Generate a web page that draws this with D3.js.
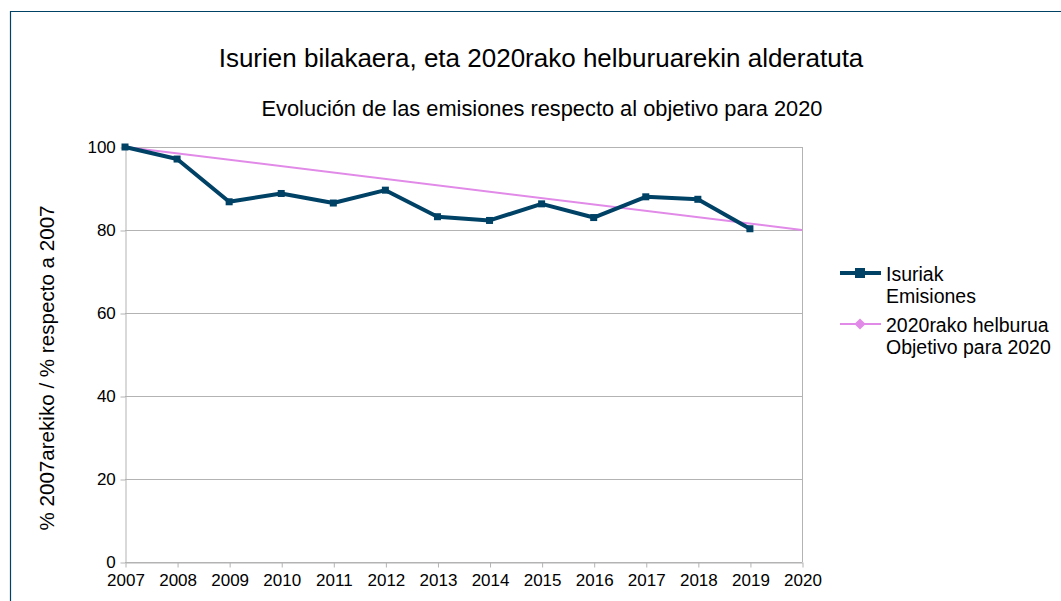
<!DOCTYPE html>
<html><head><meta charset="utf-8">
<script src="https://cdn.jsdelivr.net/npm/d3@7"></script>
<style>body{margin:0;background:#fff}svg{display:block;font-family:"Liberation Sans",Arial,sans-serif}</style>
</head><body><svg id="c" width="1061" height="601"></svg>
<script>
const years = [2007,2008,2009,2010,2011,2012,2013,2014,2015,2016,2017,2018,2019];
const emissions = [100,97.1,86.8,88.8,86.5,89.6,83.2,82.3,86.3,83.0,88.0,87.4,80.3];
const targetYears = [2007,2020];
const targetValues = [100,80];
const xTicks = [2007,2008,2009,2010,2011,2012,2013,2014,2015,2016,2017,2018,2019,2020];
const yTicks = [0,20,40,60,80,100];
const title = "Isurien bilakaera, eta 2020rako helburuarekin alderatuta";
const subtitle = "Evolución de las emisiones respecto al objetivo para 2020";
const yLabel = "% 2007arekiko / % respecto a 2007";
const legendItems = [["Isuriak","Emisiones"],["2020rako helburua","Objetivo para 2020"]];

const svg = d3.select("#c");
const dark = "#004166", pink = "#e18ae8", grid = "#b3b3b3";
svg.append("path").attr("d","M10.5,601 V11.5 H1061").attr("fill","none").attr("stroke",dark).attr("stroke-width",1.2);

const x = d3.scaleLinear().domain([2007,2020]).range([125,802]);
const y = d3.scaleLinear().domain([0,100]).range([562,147]);

svg.append("text").attr("x",541).attr("y",67).attr("text-anchor","middle").attr("font-size",26).attr("fill","#000").text(title);
svg.append("text").attr("x",542).attr("y",116).attr("text-anchor","middle").attr("font-size",21.8).attr("fill","#000").text(subtitle);

svg.append("g").selectAll("line").data(yTicks).join("line")
  .attr("x1",x(2007)).attr("x2",x(2020)).attr("y1",d=>y(d)+0.5).attr("y2",d=>y(d)+0.5)
  .attr("stroke",grid).attr("stroke-width",1);
svg.append("line").attr("x1",x(2020)+0.5).attr("x2",x(2020)+0.5).attr("y1",y(100)).attr("y2",y(0)).attr("stroke",grid);

const xAxis = svg.append("g").attr("transform",`translate(0.5,${y(0)+0.5})`)
  .call(d3.axisBottom(x).tickValues(xTicks).tickFormat(d3.format("d")).tickSize(5).tickSizeOuter(0));
const yAxis = svg.append("g").attr("transform",`translate(${x(2007)+0.5},0.5)`)
  .call(d3.axisLeft(y).tickValues(yTicks).tickSize(5).tickSizeOuter(0));
[xAxis,yAxis].forEach(a=>{
  a.select(".domain").attr("stroke",grid);
  a.selectAll(".tick line").attr("stroke",grid);
  a.selectAll("text").attr("font-size",17).attr("fill","#000").attr("font-family","Liberation Sans, Arial, sans-serif");
});
xAxis.selectAll("text").attr("dy","0.9em");
yAxis.selectAll("text").attr("dx","-0.1em");

svg.append("text").attr("transform","translate(54,368) rotate(-90)").attr("text-anchor","middle")
  .attr("font-size",20.6).attr("fill","#000").text(yLabel);

svg.append("path").datum(targetYears.map((d,i)=>[d,targetValues[i]]))
  .attr("d",d3.line().x(d=>x(d[0])).y(d=>y(d[1])))
  .attr("fill","none").attr("stroke",pink).attr("stroke-width",2);

const pts = years.map((d,i)=>[d,emissions[i]]);
svg.append("path").datum(pts).attr("d",d3.line().x(d=>x(d[0])).y(d=>y(d[1])))
  .attr("fill","none").attr("stroke",dark).attr("stroke-width",4).attr("stroke-linejoin","round");
svg.append("g").selectAll("rect").data(pts).join("rect")
  .attr("x",d=>x(d[0])-3.5).attr("y",d=>y(d[1])-3.5).attr("width",7).attr("height",7).attr("fill",dark);

const lg = svg.append("g");
const ly = [273, 324];
lg.append("line").attr("x1",840).attr("x2",881).attr("y1",ly[0]).attr("y2",ly[0]).attr("stroke",dark).attr("stroke-width",4);
lg.append("rect").attr("x",855).attr("y",ly[0]-5).attr("width",10).attr("height",10).attr("fill",dark);
lg.append("line").attr("x1",840).attr("x2",881).attr("y1",ly[1]).attr("y2",ly[1]).attr("stroke",pink).attr("stroke-width",2);
lg.append("path").attr("d",d3.symbol(d3.symbolDiamond2,80)()).attr("transform",`translate(860,${ly[1]})`).attr("fill",pink);
legendItems.forEach((it,i)=>{
  const t = lg.append("text").attr("x",886).attr("y",ly[i]+8).attr("font-size",19.5).attr("fill","#000");
  t.append("tspan").attr("x",886).text(it[0]);
  t.append("tspan").attr("x",886).attr("dy",21.5).text(it[1]);
});
</script></body></html>
